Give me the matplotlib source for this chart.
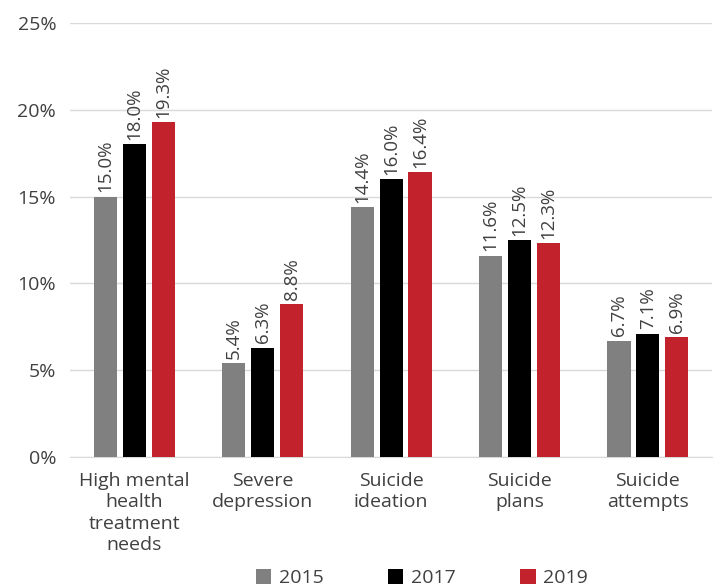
import matplotlib.pyplot as plt
import numpy as np

categories = ["High mental\nhealth\ntreatment\nneeds", "Severe\ndepression", "Suicide\nideation",
              "Suicide\nplans", "Suicide\nattempts"]
years = ["2015", "2017", "2019"]
v2015 = [15.0, 5.4, 14.4, 11.6, 6.7]
v2017 = [18.0, 6.3, 16.0, 12.5, 7.1]
v2019 = [19.3, 8.8, 16.4, 12.3, 6.9]
colors = ["#808080", "#000000", "#C1222B"]

plt.rcParams['font.family'] = ['Open Sans', 'DejaVu Sans']
txt = "#404040"

fig = plt.figure(figsize=(7.15, 5.86), dpi=100)
ax = fig.add_axes([0.098, 0.22, 0.898, 0.741])

x = np.arange(len(categories))
w = 0.18
step = 0.225
for i, (vals, c, yr) in enumerate(zip([v2015, v2017, v2019], colors, years)):
    pos = x + (i - 1) * step
    ax.bar(pos, vals, width=w, color=c, label=yr, zorder=3)
    for p, v in zip(pos, vals):
        ax.text(p, v + 0.25, f"{v:.1f}%", rotation=90, ha="center", va="bottom",
                fontsize=13.5, color=txt)

ax.set_xlim(-0.5, 4.5)
ax.set_ylim(0, 25)
ax.set_yticks(range(0, 26, 5))
ax.set_yticklabels([f"{t}%" for t in range(0, 26, 5)])
ax.yaxis.grid(True, color="#d9d9d9", linewidth=1, zorder=0)
ax.set_xticks(x)
ax.set_xticklabels(categories, linespacing=1.22)
ax.tick_params(axis="both", length=0, labelsize=14, colors=txt)
ax.tick_params(axis="y", pad=10)
ax.tick_params(axis="x", pad=11)
for s in ["top", "right", "left"]:
    ax.spines[s].set_visible(False)
ax.spines["bottom"].set_color("#d9d9d9")

fig.legend(loc="lower center", ncol=3, frameon=False, fontsize=14,
           bbox_to_anchor=(0.59, -0.032), handlelength=0.8, handleheight=0.8,
           handletextpad=0.4, columnspacing=3.3, labelcolor=txt)

fig.savefig("out.png", dpi=100)
